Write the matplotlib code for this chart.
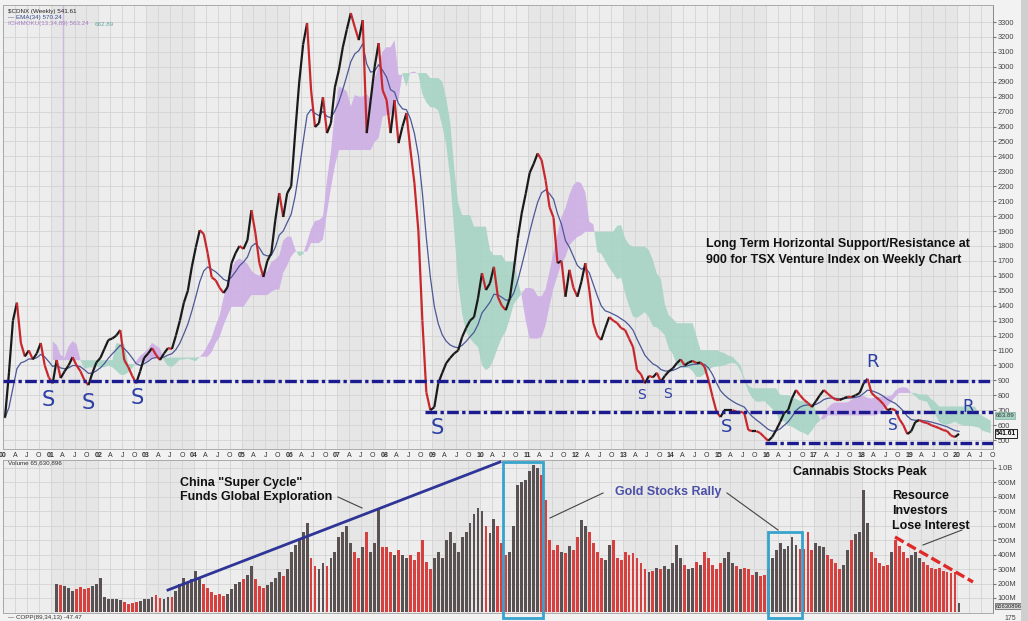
import matplotlib
matplotlib.use("Agg")
import matplotlib.pyplot as plt
from matplotlib.collections import LineCollection
from matplotlib.patches import Rectangle
from matplotlib.transforms import blended_transform_factory
import numpy as np
import pandas as pd

plt.rcParams['font.family'] = ['Liberation Sans', 'DejaVu Sans']

# $CDNX monthly closes, Jan 2000 .. Jan 2020
close = [
    650, 950, 1300, 1420, 1150, 1060, 1100, 1040, 1080, 1150, 1000, 920,     # 2000
    880, 1036, 915, 960, 1000, 1055, 1000, 960, 900, 868, 950, 1020,         # 2001
    1050, 1110, 1170, 1180, 1200, 1237, 1036, 990, 930, 880, 960, 1050,      # 2002
    1080, 1116, 1070, 1036, 1080, 1116, 1110, 1200, 1300, 1420, 1500, 1660,  # 2003
    1790, 1906, 1880, 1750, 1590, 1570, 1520, 1485, 1525, 1685, 1752, 1800,  # 2004
    1780, 1840, 2040, 1886, 1685, 1592, 1700, 1752, 1973, 2154, 1994, 2154,  # 2005
    2200, 2556, 2891, 3150, 3293, 2844, 2597, 2623, 2797, 2556, 2623, 2864,  # 2006
    2978, 3132, 3250, 3360, 3266, 3179, 3313, 2556, 2777, 3000, 3159, 2844,  # 2007
    2777, 2556, 2777, 2489, 2600, 2690, 2442, 2221, 1900, 1300, 820, 700,    # 2008
    720, 880, 950, 1015, 1050, 1080, 1100, 1190, 1250, 1300, 1324, 1450,     # 2009
    1618, 1505, 1550, 1660, 1458, 1400, 1370, 1450, 1640, 1850, 2020, 2150,  # 2010
    2290, 2350, 2420, 2375, 2240, 2060, 1990, 1685, 1700, 1460, 1640, 1520,  # 2011
    1460, 1560, 1685, 1505, 1284, 1200, 1170, 1250, 1324, 1300, 1284, 1250,  # 2012
    1237, 1180, 1123, 970, 940, 880, 930, 920, 950, 890, 930, 960,           # 2013
    980, 1015, 1040, 1000, 1020, 1030, 1015, 1020, 990, 900, 790, 690,       # 2014
    654, 700, 700, 700, 690, 690, 680, 567, 560, 560, 547, 520,              # 2015
    495, 520, 567, 620, 680, 700, 780, 835, 800, 770, 748, 721,              # 2016
    760, 800, 835, 810, 788, 770, 768, 780, 790, 788, 800, 815,              # 2017
    880, 910, 815, 790, 768, 740, 700, 710, 700, 640, 600, 540,              # 2018
    560, 620, 634, 620, 614, 600, 590, 580, 567, 560, 530, 520,              # 2019
    541.61,                                                                  # 2020
]

# average weekly volume per month (millions), Feb 2001 .. Jan 2020
volume = [
    200, 190, 185, 170, 150, 165, 175, 160, 170, 185, 200,                   # 2001
    240, 110, 95, 90, 90, 85, 70, 60, 65, 70, 80, 95,                        # 2002
    90, 110, 120, 100, 95, 105, 110, 150, 200, 240, 210, 230,                # 2003
    290, 240, 200, 170, 140, 120, 125, 115, 130, 160, 200, 210,              # 2004
    230, 260, 320, 230, 180, 170, 190, 210, 240, 280, 250, 300,              # 2005
    420, 470, 500, 560, 620, 380, 320, 300, 340, 320, 380, 420,              # 2006
    520, 560, 600, 480, 420, 380, 450, 560, 420, 480, 720, 450,              # 2007
    450, 420, 400, 430, 400, 380, 400, 360, 420, 500, 350, 300,              # 2008
    380, 420, 380, 500, 560, 480, 420, 520, 560, 620, 680, 720,              # 2009
    700, 600, 550, 650, 600, 480, 400, 420, 600, 880, 900, 920,              # 2010
    980, 1020, 1000, 950, 780, 500, 430, 470, 420, 410, 460, 430,            # 2011
    520, 640, 600, 560, 480, 420, 380, 360, 470, 500, 380, 360,              # 2012
    420, 400, 410, 380, 340, 300, 280, 290, 310, 300, 320, 300,              # 2013
    340, 470, 380, 330, 300, 310, 350, 330, 420, 380, 330, 300,              # 2014
    340, 380, 420, 340, 320, 300, 310, 300, 260, 280, 250, 260,              # 2015
    300, 380, 430, 480, 440, 460, 520, 470, 440, 440, 560, 430,              # 2016
    480, 460, 450, 400, 370, 340, 300, 330, 430, 500, 540, 560,              # 2017
    850, 620, 420, 380, 340, 320, 330, 420, 500, 460, 420, 380,              # 2018
    400, 420, 380, 350, 330, 310, 300, 310, 290, 280, 270, 280,              # 2019
    66,                                                                      # 2020
]

support_levels = [893, 686, 482]
support_from = [2000.0, 2008.85, 2015.97]

# hand drawn S / R marks: (label, x px, y px, size)
marks = [('S', 48, 400, 15), ('S', 88, 403, 15), ('S', 137, 398, 15),
         ('S', 437, 428, 15), ('S', 642, 395, 10), ('S', 668, 394, 10),
         ('S', 727, 427, 13), ('S', 893, 425, 11), ('R', 873, 362, 13),
         ('R', 968, 407, 12)]

W, H = 1028, 621
PX_PER_YEAR = 47.7


def fx(x):
    return x / W


def fy(y):
    return 1 - y / H


months = pd.date_range("2000-01-01", periods=len(close), freq="MS")
t = np.asarray(months.year + (months.month - 0.5) / 12.0)
price = pd.Series(close, dtype=float)

ema = price.ewm(span=7.85, adjust=False).mean()
tenkan = (price.rolling(3, min_periods=1).max() + price.rolling(3, min_periods=1).min()) / 2
kijun = (price.rolling(8, min_periods=1).max() + price.rolling(8, min_periods=1).min()) / 2
span_a = ((tenkan + kijun) / 2).values
span_b = ((price.rolling(20, min_periods=1).max() + price.rolling(20, min_periods=1).min()) / 2).values
t_cloud = t + 8 / 12.0

xmin, xmax = 2000.0, 2000.0 + 990 / PX_PER_YEAR

fig = plt.figure(figsize=(W / 100, H / 100), dpi=100, facecolor='#f2f2f2')
ax = fig.add_axes([fx(3), fy(449), 990 / W, 444 / H])
axv = fig.add_axes([fx(3), fy(613), 990 / W, 153 / H])

quarters = np.arange(2000, 2021, 0.25)
qlabels = []
for q in quarters:
    yr = int(np.floor(q))
    part = round((q - yr) * 4)
    qlabels.append(f"{yr % 100:02d}" if part == 0 else ['', 'A', 'J', 'O'][part])

for a in (ax, axv):
    a.set_facecolor('#ededed')
    for yr in range(2001, 2021, 2):
        a.axvspan(yr, yr + 1, color='#e6e6e6', zorder=0, lw=0)
    a.set_xlim(xmin, xmax)
    a.set_xticks(quarters)
    a.grid(True, color='#d3d3d3', lw=0.6)
    a.set_axisbelow(True)
    a.yaxis.tick_right()
    a.tick_params(axis='y', length=2, pad=1.5, labelsize=5.3, labelcolor='#444444', color='#777777')
    for sp in a.spines.values():
        sp.set_color('#a0a0a0')
        sp.set_linewidth(0.6)
    a.spines['right'].set_color('#777777')

# ---- price panel
ax.set_ylim(440, 3414)
ax.set_yticks(range(500, 3400, 100))
ax.set_xticklabels(qlabels, fontsize=5, color='#333333')
for lab, txt in zip(ax.get_xticklabels(), qlabels):
    if txt[:1].isdigit():
        lab.set_fontweight('bold')
ax.tick_params(axis='x', length=0, pad=2.5)

start = 4
ta, a_, b_ = t_cloud[start:], span_a[start:], span_b[start:]
ax.fill_between(ta, a_, b_, where=a_ >= b_, interpolate=True, color='#cdaee5', alpha=0.9, lw=0, zorder=1)
ax.fill_between(ta, a_, b_, where=a_ < b_, interpolate=True, color='#a6d4c5', alpha=0.9, lw=0, zorder=1)

ax.plot([2001.25, 2001.25], [1040, 3414], color='#cbb7df', lw=1, zorder=1)

ax.plot(t, ema, color='#4b5896', lw=0.9, zorder=3)

pts = np.column_stack([t, close])
segs = np.stack([pts[:-1], pts[1:]], axis=1)
seg_colors = ['#1a1a1a' if b >= a else '#c8282d' for a, b in zip(close[:-1], close[1:])]
ax.add_collection(LineCollection(segs, colors=seg_colors, linewidths=1.6, zorder=4))

for lvl, x0 in zip(support_levels, support_from):
    ax.plot([x0, xmax], [lvl, lvl], color='#1b1b8f', lw=2.4, ls=(0, (3.5, 1, 1, 1)), zorder=5)

yblend = blended_transform_factory(ax.transAxes, ax.transData)
ax.text(1.003, 663.89, '663.89', transform=yblend, fontsize=4.4, va='center', ha='left', color='#333333',
        bbox=dict(boxstyle='square,pad=0.1', fc='#a6d4c5', ec='#7fb0a0', lw=0.5), zorder=6, clip_on=False)
ax.text(1.003, 541.61, '541.61', transform=yblend, fontsize=4.8, va='center', ha='left', color='#111111',
        fontweight='bold', bbox=dict(boxstyle='square,pad=0.15', fc='#f4f4f4', ec='#222222', lw=0.7),
        zorder=6, clip_on=False)

for lab, x, y, size in marks:
    fig.text(fx(x), fy(y), lab, fontsize=size, color='#2c3fa4', ha='center', va='center',
             family='DejaVu Sans', fontweight='normal', zorder=7)

fig.text(fx(706), fy(252), 'Long Term Horizontal Support/Resistance at\n900 for TSX Venture Index on Weekly Chart',
         fontsize=9, fontweight='bold', color='#111111', ha='left', va='center', linespacing=1.45)

fig.text(fx(8), fy(11), '$CDNX (Weekly) 541.61', fontsize=4.5, color='#222222', va='center')
fig.text(fx(8), fy(17.5), '— EMA(34) 570.24', fontsize=4.5, color='#3a4a8a', va='center')
fig.text(fx(8), fy(24), 'ICHIMOKU(13,34,89) 563.24', fontsize=4.5, color='#a77cc2', va='center')
fig.text(fx(95), fy(24), '662.89', fontsize=4.5, color='#5fa898', va='center')

# ---- volume panel
t_vol = t[-len(volume):]
vol_colors = ['#5a5252' if close[i] >= close[i - 1] else '#d6403f'
              for i in range(len(close) - len(volume), len(close))]
axv.bar(t_vol, volume, width=0.06, color=vol_colors, lw=0, zorder=2)
axv.set_ylim(-4, 1055)
vt = list(range(100, 1001, 100))
axv.set_yticks(vt)
axv.set_yticklabels([f'{v}M' if v < 1000 else '1.0B' for v in vt])
axv.tick_params(axis='x', length=0, labelbottom=False)

vblend = blended_transform_factory(axv.transAxes, axv.transData)
axv.text(1.003, 42, '65630896', transform=vblend, fontsize=4.2, va='center', ha='left', color='#222222',
         bbox=dict(boxstyle='square,pad=0.1', fc='#d8d8d8', ec='#555555', lw=0.5), zorder=6, clip_on=False)

fig.text(fx(8), fy(463), 'Volume 65,630,896', fontsize=4.5, color='#333333', va='center')
fig.text(fx(8), fy(617.5), '— COPP(89,34,13) -47.47', fontsize=4.5, color='#333333', va='center')
fig.text(fx(1004), fy(618), '175', fontsize=5, color='#444444', va='center')


# annotation lines, boxes and labels in pixel space
def fig_line(x0, y0, x1, y1, **kw):
    fig.add_artist(plt.Line2D([fx(x0), fx(x1)], [fy(y0), fy(y1)], transform=fig.transFigure, **kw))


fig_line(168, 590, 500, 462, color='#2f3596', lw=2.0)
fig_line(338, 497, 362, 508, color='#444444', lw=0.8)
fig_line(603, 493, 550, 518, color='#444444', lw=0.8)
fig_line(727, 493, 778, 530, color='#444444', lw=0.8)
fig_line(962, 530, 923, 545, color='#444444', lw=0.8)
fig_line(895, 537, 973, 582, color='#e02a2a', lw=2.4, ls=(0, (3, 1.2)))

for x0, y0, x1, y1 in [(503, 462, 543, 618), (768, 532, 802, 618)]:
    fig.add_artist(Rectangle((fx(x0), fy(y1)), (x1 - x0) / W, (y1 - y0) / H, transform=fig.transFigure,
                             fill=False, ec='#38a3cc', lw=2.0))

fig.text(fx(180), fy(490), 'China "Super Cycle"\nFunds Global Exploration', fontsize=9, fontweight='bold',
         color='#111111', ha='left', va='center', linespacing=1.2)
fig.text(fx(615), fy(492), 'Gold Stocks Rally', fontsize=9, fontweight='bold', color='#4b4fa6',
         ha='left', va='center')
fig.text(fx(793), fy(472), 'Cannabis Stocks Peak', fontsize=9, fontweight='bold', color='#111111',
         ha='left', va='center')
fig.text(fx(892), fy(511), 'Resource\nInvestors\nLose Interest', fontsize=9, fontweight='bold',
         color='#111111', ha='left', va='center', linespacing=1.3)

fig.add_artist(Rectangle((fx(1021), 0), 7 / W, 1, transform=fig.transFigure, color='#cfcfcf', lw=0))

fig.savefig('out.png', dpi=100, facecolor=fig.get_facecolor())
